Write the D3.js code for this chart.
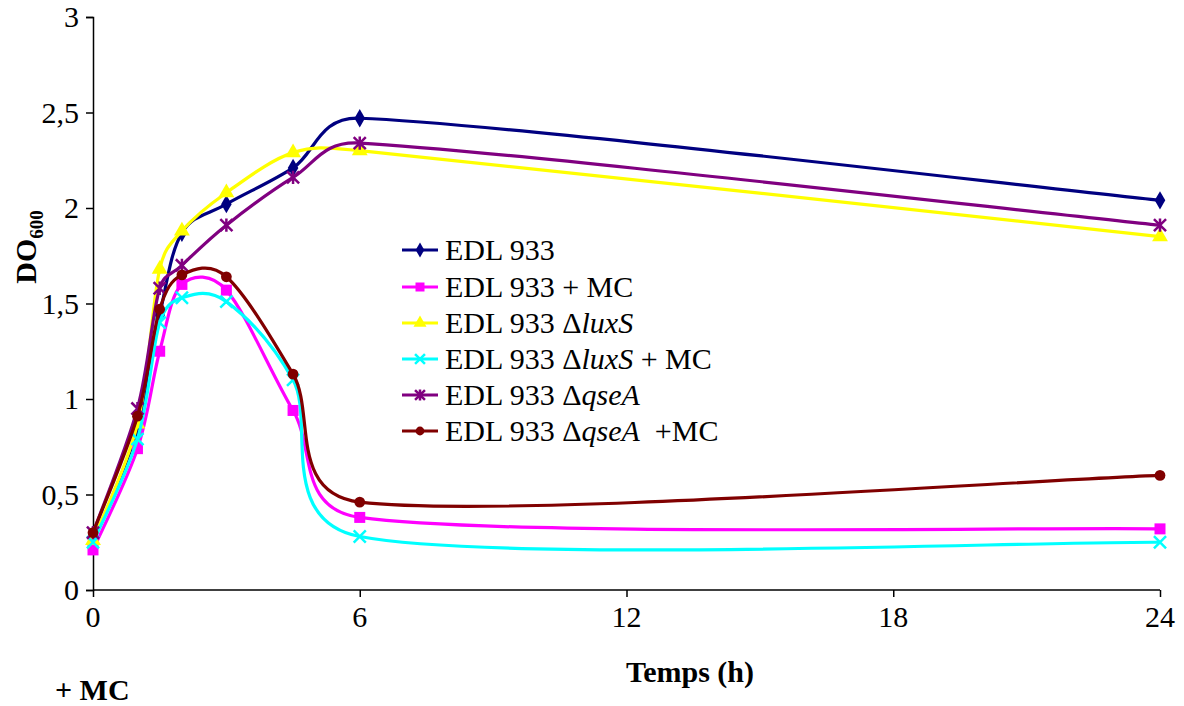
<!DOCTYPE html>
<html><head><meta charset="utf-8">
<script src="https://cdn.jsdelivr.net/npm/d3@7"></script>
<style>body{margin:0;background:#fff}svg{display:block}</style>
</head><body>
<svg id="c" width="1184" height="706" font-family="Liberation Serif"></svg>
<script>
const times = [0, 1, 1.5, 2, 3, 4.5, 6, 24];
const edl = [0.25, 0.84, 1.44, 1.87, 2.02, 2.21, 2.47, 2.04];
const edlMC = [0.21, 0.74, 1.25, 1.60, 1.57, 0.94, 0.38, 0.32];
const luxS = [0.26, 0.87, 1.68, 1.88, 2.08, 2.29, 2.30, 1.85];
const luxSMC = [0.25, 0.79, 1.40, 1.53, 1.51, 1.10, 0.28, 0.25];
const qseA = [0.30, 0.95, 1.58, 1.70, 1.91, 2.16, 2.34, 1.91];
const qseAMC = [0.30, 0.91, 1.47, 1.65, 1.64, 1.13, 0.46, 0.60];
const xTicks = [0, 6, 12, 18, 24];
const yTicks = [0, 0.5, 1, 1.5, 2, 2.5, 3];

const series = [
  {vals: edl, color: "#000080", sym: "diamond"},
  {vals: edlMC, color: "#FF00FF", sym: "square"},
  {vals: luxS, color: "#FFFF00", sym: "triangle"},
  {vals: luxSMC, color: "#00FFFF", sym: "x"},
  {vals: qseA, color: "#800080", sym: "star"},
  {vals: qseAMC, color: "#800000", sym: "circle"}
];

const svg = d3.select("#c");
const x = d3.scaleLinear().domain([0, 24]).range([93, 1160]);
const y = d3.scaleLinear().domain([0, 3]).range([590, 17]);
const fs = 30;

// text layer first
const textLayer = svg.append("g");
const markLayer = svg.append("g");

function label(px, py, str, opts = {}) {
  const t = textLayer.append("text").attr("x", px).attr("y", py)
    .attr("font-family", "Liberation Serif").attr("font-size", opts.size || fs)
    .style("font-family", "'Liberation Serif'");
  if (opts.anchor) t.attr("text-anchor", opts.anchor);
  if (opts.bold) t.attr("font-weight", "bold");
  if (str !== null) t.text(str);
  return t;
}

yTicks.forEach(v => label(79, y(v) + 10, String(v).replace(".", ","), {anchor: "end"}));
xTicks.forEach(v => label(x(v), 627, String(v), {anchor: "middle"}));

const rowY = [250, 287, 323, 359, 395, 431];
const legendParts = [
  [["EDL 933", false]],
  [["EDL 933 + MC", false]],
  [["EDL 933 Δ", false], ["luxS", true]],
  [["EDL 933 Δ", false], ["luxS", true], [" + MC", false]],
  [["EDL 933 Δ", false], ["qseA", true]],
  [["EDL 933 Δ", false], ["qseA", true], ["  +MC", false]]
];
legendParts.forEach((parts, i) => {
  const t = label(445, rowY[i] + 10, null).attr("xml:space", "preserve");
  parts.forEach(([txt, it]) => {
    const ts = t.append("tspan").text(txt);
    if (it) ts.attr("font-style", "italic");
  });
});

const yl = textLayer.append("text").attr("transform", "translate(36,247) rotate(-90)")
  .attr("text-anchor", "middle").attr("font-family", "Liberation Serif")
  .style("font-family", "'Liberation Serif'").attr("font-weight", "bold").attr("font-size", fs);
yl.append("tspan").text("DO");
yl.append("tspan").text("600").attr("font-size", 19).attr("dy", 7);

label(690, 682, "Temps (h)", {anchor: "middle", bold: true});
label(55, 700, "+ MC", {bold: true});

// axes (lines and ticks)
const yAxis = markLayer.append("g").attr("transform", "translate(93,0)")
  .call(d3.axisLeft(y).tickValues(yTicks).tickSize(7).tickFormat(""));
const xAxis = markLayer.append("g").attr("transform", "translate(0,590)")
  .call(d3.axisBottom(x).tickValues(xTicks).tickSize(7).tickFormat(""));
[yAxis, xAxis].forEach(a => {
  a.attr("font-family", null).attr("font-size", null);
  a.select(".domain").attr("stroke", "#000").attr("stroke-width", 1.5);
  a.selectAll(".tick line").attr("stroke", "#000").attr("stroke-width", 1.5);
  a.selectAll(".tick text").remove();
});
xAxis.select(".domain").attr("d", "M93,0H1160");

function marker(g, type, cx, cy, color, s) {
  if (type === "x" || type === "star") {
    const r = s * 0.55;
    const p = d3.path();
    p.moveTo(cx - r, cy - r); p.lineTo(cx + r, cy + r);
    p.moveTo(cx - r, cy + r); p.lineTo(cx + r, cy - r);
    if (type === "star") { p.moveTo(cx, cy - r * 1.1); p.lineTo(cx, cy + r * 1.1); }
    g.append("path").attr("d", p.toString()).attr("stroke", color).attr("stroke-width", 2.5).attr("fill", "none");
  } else {
    const symType = {diamond: d3.symbolDiamond, square: d3.symbolSquare, triangle: d3.symbolTriangle, circle: d3.symbolCircle}[type];
    const size = {diamond: s * s * 0.8, square: s * s, triangle: s * s * 0.9, circle: s * s * 0.75}[type];
    g.append("path").attr("d", d3.symbol().type(symType).size(size)())
      .attr("transform", `translate(${cx},${cy})`).attr("fill", color);
  }
}

// Excel-style smoothed line: Catmull-Rom Bezier with control length clamped to half the segment
function excelSmooth(vals) {
  const P = vals.map((v, i) => [x(times[i]), y(v)]);
  const n = P.length;
  const dist = (a, b) => Math.hypot(b[0] - a[0], b[1] - a[1]);
  const p = d3.path();
  p.moveTo(P[0][0], P[0][1]);
  for (let i = 0; i < n - 1; i++) {
    const p0 = P[Math.max(0, i - 1)], p1 = P[i], p2 = P[i + 1], p3 = P[Math.min(n - 1, i + 2)];
    const d12 = dist(p1, p2), d02 = dist(p0, p2), d13 = dist(p1, p3);
    let f1 = 1 / 6, f2 = 1 / 6;
    if (d02 / 6 >= d12 / 2 && d02 > 0) f1 = d12 / d02 / 2;
    if (d13 / 6 >= d12 / 2 && d13 > 0) f2 = d12 / d13 / 2;
    const c1 = [p1[0] + (p2[0] - p0[0]) * f1, p1[1] + (p2[1] - p0[1]) * f1];
    const c2 = [p2[0] - (p3[0] - p1[0]) * f2, p2[1] - (p3[1] - p1[1]) * f2];
    p.bezierCurveTo(c1[0], c1[1], c2[0], c2[1], p2[0], p2[1]);
  }
  return p.toString();
}

series.forEach(s => {
  const g = markLayer.append("g");
  g.append("path").attr("d", excelSmooth(s.vals)).attr("fill", "none").attr("stroke", s.color).attr("stroke-width", 3.2);
  s.vals.forEach((v, i) => marker(g, s.sym, x(times[i]), y(v), s.color, 11));
});

series.forEach((s, i) => {
  const cy = rowY[i];
  markLayer.append("line").attr("x1", 402).attr("x2", 438).attr("y1", cy).attr("y2", cy)
    .attr("stroke", s.color).attr("stroke-width", 3.2);
  marker(markLayer, s.sym, 420, cy, s.color, 9);
});
</script>
</body></html>
